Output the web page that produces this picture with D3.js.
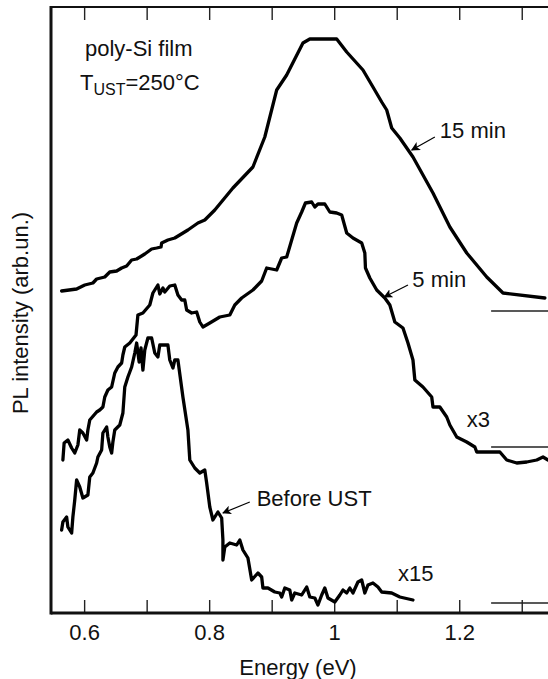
<!DOCTYPE html>
<html>
<head>
<meta charset="utf-8">
<script src="https://cdn.jsdelivr.net/npm/d3@7/dist/d3.min.js"></script>
<style>
  html, body { margin: 0; padding: 0; background: #fff; }
  svg { display: block; }
  text { font-family: "Liberation Sans", Arial, Helvetica, sans-serif; fill: #111; }
</style>
</head>
<body>
<svg id="chart" width="548" height="679"></svg>
<script>
// ---- data (Energy in eV, PL intensity in arb. units, curves offset vertically as in the figure) ----
const xTicks = [0.6, 0.7, 0.8, 0.9, 1.0, 1.1, 1.2, 1.3];
const xTickLabels = ["0.6", "", "0.8", "", "1", "", "1.2", ""];

const series15min = [
  [0.564,32.2],[0.588,32.4],[0.601,32.8],[0.614,33.0],[0.620,33.4],[0.633,33.6],[0.641,34.1],
  [0.652,34.2],[0.660,34.5],[0.668,34.7],[0.676,35.3],[0.684,35.4],[0.697,35.9],[0.708,36.4],
  [0.716,36.5],[0.723,36.6],[0.724,37.0],[0.734,37.3],[0.745,37.5],[0.766,38.3],[0.782,39.0],
  [0.793,39.3],[0.809,40.3],[0.838,42.5],[0.870,44.6],[0.889,47.6],[0.908,52.3],[0.924,53.8],
  [0.950,57.0],[0.961,57.4],[1.004,57.4],[1.020,56.1],[1.046,54.3],[1.062,52.6],[1.076,51.1],
  [1.084,50.3],[1.092,48.5],[1.105,47.5],[1.126,45.6],[1.158,42.0],[1.185,38.6],[1.212,36.0],
  [1.244,33.6],[1.270,32.0],[1.337,31.5]
];

const series5min = [
  [0.566,15.3],[0.568,17.0],[0.574,17.3],[0.580,16.5],[0.585,16.0],[0.590,16.8],[0.593,18.3],
  [0.598,18.0],[0.604,17.3],[0.606,18.3],[0.609,19.3],[0.620,20.1],[0.625,20.3],[0.630,20.6],
  [0.633,21.6],[0.638,22.3],[0.644,22.6],[0.649,24.0],[0.654,24.6],[0.660,25.0],[0.662,25.8],
  [0.665,26.6],[0.673,27.0],[0.683,27.8],[0.686,29.8],[0.694,30.0],[0.705,30.8],[0.710,32.0],
  [0.715,32.5],[0.718,32.8],[0.721,31.9],[0.726,32.5],[0.729,32.1],[0.737,32.7],[0.745,32.8],
  [0.750,31.8],[0.756,31.3],[0.761,31.3],[0.764,30.3],[0.772,30.0],[0.780,30.1],[0.785,29.1],
  [0.790,28.6],[0.801,29.0],[0.817,29.6],[0.833,29.8],[0.841,30.8],[0.852,31.5],[0.870,32.3],
  [0.884,33.2],[0.892,34.5],[0.900,34.4],[0.908,34.3],[0.916,35.5],[0.924,35.6],[0.932,37.3],
  [0.940,39.0],[0.948,40.1],[0.954,41.0],[0.964,41.1],[0.969,40.6],[0.974,40.9],[0.985,40.9],
  [0.993,40.1],[1.004,40.0],[1.012,39.8],[1.020,38.0],[1.030,37.5],[1.044,37.0],[1.049,36.0],
  [1.050,34.5],[1.057,33.5],[1.068,32.3],[1.081,31.5],[1.089,30.8],[1.097,29.1],[1.110,28.5],
  [1.118,27.0],[1.126,25.3],[1.129,23.3],[1.142,22.6],[1.156,21.6],[1.158,20.6],[1.169,20.6],
  [1.180,19.6],[1.185,18.8],[1.196,17.6],[1.212,17.1],[1.225,16.6],[1.228,16.1],[1.249,16.1],
  [1.265,16.1],[1.276,15.3],[1.292,15.0],[1.308,15.1],[1.324,15.3],[1.334,15.6],[1.342,15.3]
];

const seriesBefore = [
  [0.564,8.3],[0.566,9.1],[0.572,9.6],[0.574,8.6],[0.580,8.0],[0.582,9.6],[0.585,11.3],
  [0.588,13.3],[0.593,12.6],[0.598,11.5],[0.606,11.8],[0.609,13.6],[0.614,14.0],[0.620,15.0],
  [0.622,15.6],[0.628,16.3],[0.630,18.0],[0.636,18.6],[0.638,17.6],[0.641,16.6],[0.644,16.0],
  [0.646,17.1],[0.649,18.3],[0.657,18.8],[0.662,20.0],[0.665,22.6],[0.670,23.6],[0.676,24.6],
  [0.681,26.0],[0.684,27.0],[0.688,25.1],[0.691,26.5],[0.694,24.3],[0.697,26.3],[0.702,27.5],
  [0.708,27.5],[0.713,26.0],[0.718,25.6],[0.721,26.8],[0.734,26.8],[0.737,25.3],[0.742,24.5],
  [0.745,25.3],[0.750,25.3],[0.758,21.6],[0.766,18.3],[0.769,15.3],[0.777,14.5],[0.785,14.0],
  [0.793,14.3],[0.796,13.0],[0.801,10.6],[0.806,9.3],[0.814,10.1],[0.820,9.5],[0.822,7.3],
  [0.822,5.3],[0.825,6.6],[0.833,7.0],[0.844,6.8],[0.849,7.3],[0.854,6.3],[0.862,5.5],
  [0.868,3.3],[0.878,4.0],[0.884,3.6],[0.886,2.5],[0.894,2.5],[0.905,2.1],[0.913,2.0],
  [0.916,1.6],[0.921,2.5],[0.929,2.3],[0.932,1.3],[0.937,2.0],[0.948,1.8],[0.956,2.6],
  [0.961,1.6],[0.969,1.5],[0.974,0.8],[0.980,1.8],[0.985,2.5],[0.990,1.5],[1.001,1.1],
  [1.009,1.8],[1.014,2.3],[1.020,2.0],[1.025,2.5],[1.030,2.0],[1.038,3.1],[1.044,3.3],
  [1.049,2.0],[1.054,2.8],[1.062,3.0],[1.070,2.6],[1.076,2.1],[1.092,2.0],[1.105,1.6],
  [1.126,1.3]
];

// zero levels (baselines) of the three offset curves
const baselineLevels = [30.2, 16.6, 1.0];
const baselineStart = 1.251;

// annotations
const curveLabels = [
  {text: "15 min", x: 1.169, y: 47.5, ax0: 1.161, ay0: 47.6, ax1: 1.124, ay1: 46.3},
  {text: "5 min", x: 1.125, y: 32.6, ax0: 1.118, ay0: 32.8, ax1: 1.080, ay1: 31.6},
  {text: "Before UST", x: 0.876, y: 10.7, ax0: 0.865, ay0: 11.1, ax1: 0.822, ay1: 10.0}
];
const scaleLabels = [
  {text: "x3", x: 1.212, y: 18.6},
  {text: "x15", x: 1.102, y: 3.2}
];

// ---- layout ----
const svg = d3.select("#chart");
const mLeft = 51, mRight = 548, mTop = 7, mBottom = 613;
const x = d3.scaleLinear().domain([0.547, 1.342]).range([mLeft, mRight]);
const y = d3.scaleLinear().domain([0, 60.6]).range([mBottom, mTop]);
const FONT = '"Liberation Sans", Arial, Helvetica, sans-serif';

// ticks (inward, bottom and top)
const tickLabelMap = new Map(xTicks.map((t, i) => [t, xTickLabels[i]]));
const axB = svg.append("g").attr("transform", `translate(0,${mBottom})`)
  .call(d3.axisBottom(x).tickValues(xTicks).tickSizeInner(-13).tickSizeOuter(0)
    .tickPadding(11.5).tickFormat(d => tickLabelMap.get(d)));
axB.select(".domain").remove();
axB.selectAll(".tick line").attr("stroke", "#222").attr("stroke-width", 1.4);
axB.selectAll(".tick text").attr("font-size", 22).attr("font-family", FONT).attr("fill", "#111");

const axT = svg.append("g").attr("transform", `translate(0,${mTop})`)
  .call(d3.axisTop(x).tickValues(xTicks).tickSizeInner(-13).tickSizeOuter(0).tickFormat(""));
axT.select(".domain").remove();
axT.selectAll(".tick line").attr("stroke", "#222").attr("stroke-width", 1.4);

// baselines
svg.append("g").selectAll("line").data(baselineLevels).join("line")
  .attr("x1", x(baselineStart)).attr("x2", mRight)
  .attr("y1", d => y(d)).attr("y2", d => y(d))
  .attr("stroke", "#222").attr("stroke-width", 1.4);

// frame
svg.append("line").attr("x1", mLeft).attr("x2", mLeft).attr("y1", mTop - 1).attr("y2", mBottom + 1.5)
  .attr("stroke", "#111").attr("stroke-width", 3);
svg.append("line").attr("x1", mLeft).attr("x2", mRight).attr("y1", mTop).attr("y2", mTop)
  .attr("stroke", "#111").attr("stroke-width", 2.2);
svg.append("line").attr("x1", mLeft).attr("x2", mRight).attr("y1", mBottom).attr("y2", mBottom)
  .attr("stroke", "#111").attr("stroke-width", 3);

// curves
const line = d3.line().x(d => x(d[0])).y(d => y(d[1])).curve(d3.curveLinear);
[series15min, series5min, seriesBefore].forEach(s => {
  svg.append("path").datum(s).attr("d", line)
    .attr("fill", "none").attr("stroke", "#000").attr("stroke-width", 3.3)
    .attr("stroke-linejoin", "round").attr("stroke-linecap", "round");
});

// arrows
const defs = svg.append("defs");
defs.append("marker").attr("id", "arr").attr("viewBox", "0 0 10 10")
  .attr("refX", 9).attr("refY", 5).attr("markerWidth", 9).attr("markerHeight", 9)
  .attr("markerUnits", "userSpaceOnUse").attr("orient", "auto")
  .append("path").attr("d", "M0,0 L10,5 L0,10 L2.5,5 Z").attr("fill", "#000");

curveLabels.forEach(l => {
  svg.append("line").attr("x1", x(l.ax0)).attr("y1", y(l.ay0)).attr("x2", x(l.ax1)).attr("y2", y(l.ay1))
    .attr("stroke", "#000").attr("stroke-width", 1.2).attr("marker-end", "url(#arr)");
  svg.append("text").attr("x", x(l.x)).attr("y", y(l.y)).attr("font-size", 22).text(l.text);
});
scaleLabels.forEach(l => {
  svg.append("text").attr("x", x(l.x)).attr("y", y(l.y)).attr("font-size", 22).text(l.text);
});

// sample description
svg.append("text").attr("x", 85).attr("y", 56).attr("font-size", 22).text("poly-Si film");
const t2 = svg.append("text").attr("x", 80).attr("y", 90).attr("font-size", 22);
t2.append("tspan").text("T");
t2.append("tspan").attr("font-size", 16).attr("dy", 5).text("UST");
t2.append("tspan").attr("dy", -5).text("=250\u00b0C");

// axis titles
svg.append("text").attr("x", 298).attr("y", 675).attr("text-anchor", "middle").attr("font-size", 22)
  .text("Energy (eV)");
svg.append("text").attr("transform", "translate(28,313) rotate(-90)").attr("text-anchor", "middle")
  .attr("font-size", 22).text("PL intensity (arb.un.)");
</script>
</body>
</html>
